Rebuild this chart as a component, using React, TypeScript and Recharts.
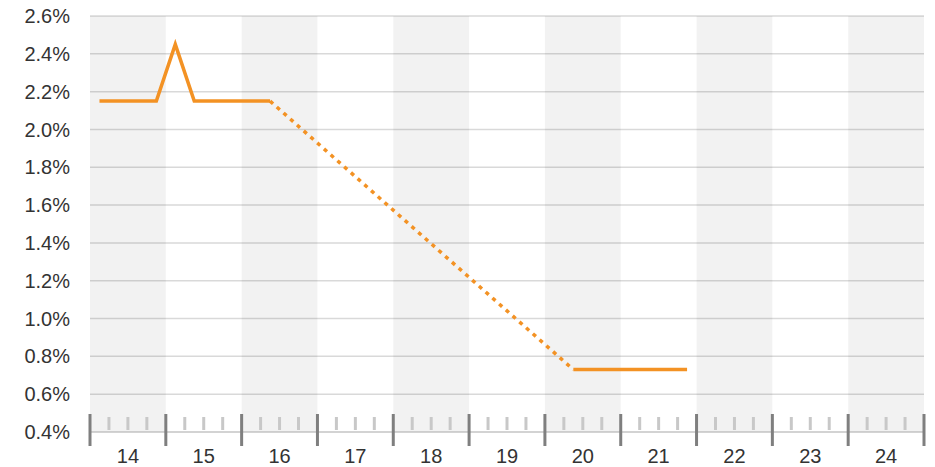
import React from 'react';
import { LineChart, Line, XAxis, YAxis, CartesianGrid, ReferenceArea } from 'recharts';

// x axis runs in quarters: 0 = start of '14, 44 = end of '24
const yearLabels = ['14', '15', '16', '17', '18', '19', '20', '21', '22', '23', '24'];
const shadedYears = ['14', '16', '18', '20', '22', '24'];
const yTicks = [0.4, 0.6, 0.8, 1.0, 1.2, 1.4, 1.6, 1.8, 2.0, 2.2, 2.4, 2.6];

const firstQuarters = [0.5, 1.5, 2.5, 3.5, 4.5, 5.5, 6.5, 7.5, 8.5, 9.5];
const firstValues = [2.15, 2.15, 2.15, 2.15, 2.45, 2.15, 2.15, 2.15, 2.15, 2.15];

const forecastQuarters = [9.5, 25.5];
const forecastValues = [2.15, 0.73];

const lastQuarters = [25.5, 26.5, 27.5, 28.5, 29.5, 30.5, 31.5];
const lastValues = [0.73, 0.73, 0.73, 0.73, 0.73, 0.73, 0.73];

const toData = (qs: number[], vs: number[]) => qs.map((q, i) => ({ q, v: vs[i] }));

const quarterTicks = Array.from({ length: yearLabels.length * 4 + 1 }, (_, i) => i);

const FONT = '"Liberation Sans", Arial, sans-serif';
const ORANGE = '#f39224';

const QuarterTick = (props: any) => {
  const { x, y, payload } = props;
  const q = payload.value as number;
  const major = q % 4 === 0;
  return (
    <g>
      {major ? (
        <line x1={x} x2={x} y1={y - 18} y2={y + 14} stroke="#7f7f7f" strokeWidth={3} />
      ) : (
        <line x1={x} x2={x} y1={y - 15} y2={y - 2} stroke="#c8c8c8" strokeWidth={3} />
      )}
      {q % 4 === 2 && (
        <text x={x} y={y + 31} textAnchor="middle" fill="#333" fontSize={20} fontFamily={FONT}>
          {yearLabels[(q - 2) / 4]}
        </text>
      )}
    </g>
  );
};

export default function App() {
  return (
    <div style={{ position: 'absolute', left: 0, top: 0 }}>
      <LineChart width={935} height={467} margin={{ top: 16, right: 11, left: 0, bottom: 5 }}>
        <CartesianGrid vertical={false} stroke="#d9d9d9" strokeWidth={1.5} />
        {shadedYears.map((yr) => {
          const i = yearLabels.indexOf(yr);
          return (
            <ReferenceArea key={yr} x1={i * 4} x2={i * 4 + 4} y1={0.4} y2={2.6} fill="#000" fillOpacity={0.05} stroke="none" />
          );
        })}
        <XAxis
          type="number"
          dataKey="q"
          domain={[0, 44]}
          ticks={quarterTicks}
          interval={0}
          height={30}
          tick={<QuarterTick />}
          tickLine={false}
          tickSize={0}
          tickMargin={0}
          axisLine={{ stroke: '#c4c4c4' }}
          allowDuplicatedCategory={false}
        />
        <YAxis
          type="number"
          domain={[0.4, 2.6]}
          ticks={yTicks}
          width={90}
          axisLine={false}
          tickLine={false}
          tickSize={0}
          tickMargin={20}
          tickFormatter={(v: number) => v.toFixed(1) + '%'}
          tick={{ fill: '#333', fontSize: 20, fontFamily: FONT }}
        />
        <Line data={toData(firstQuarters, firstValues)} dataKey="v" type="linear" stroke={ORANGE} strokeWidth={3.5} dot={false} isAnimationActive={false} />
        <Line data={toData(forecastQuarters, forecastValues)} dataKey="v" type="linear" stroke={ORANGE} strokeWidth={3.5} strokeDasharray="4 5" dot={false} isAnimationActive={false} />
        <Line data={toData(lastQuarters, lastValues)} dataKey="v" type="linear" stroke={ORANGE} strokeWidth={3.5} dot={false} isAnimationActive={false} />
      </LineChart>
    </div>
  );
}
